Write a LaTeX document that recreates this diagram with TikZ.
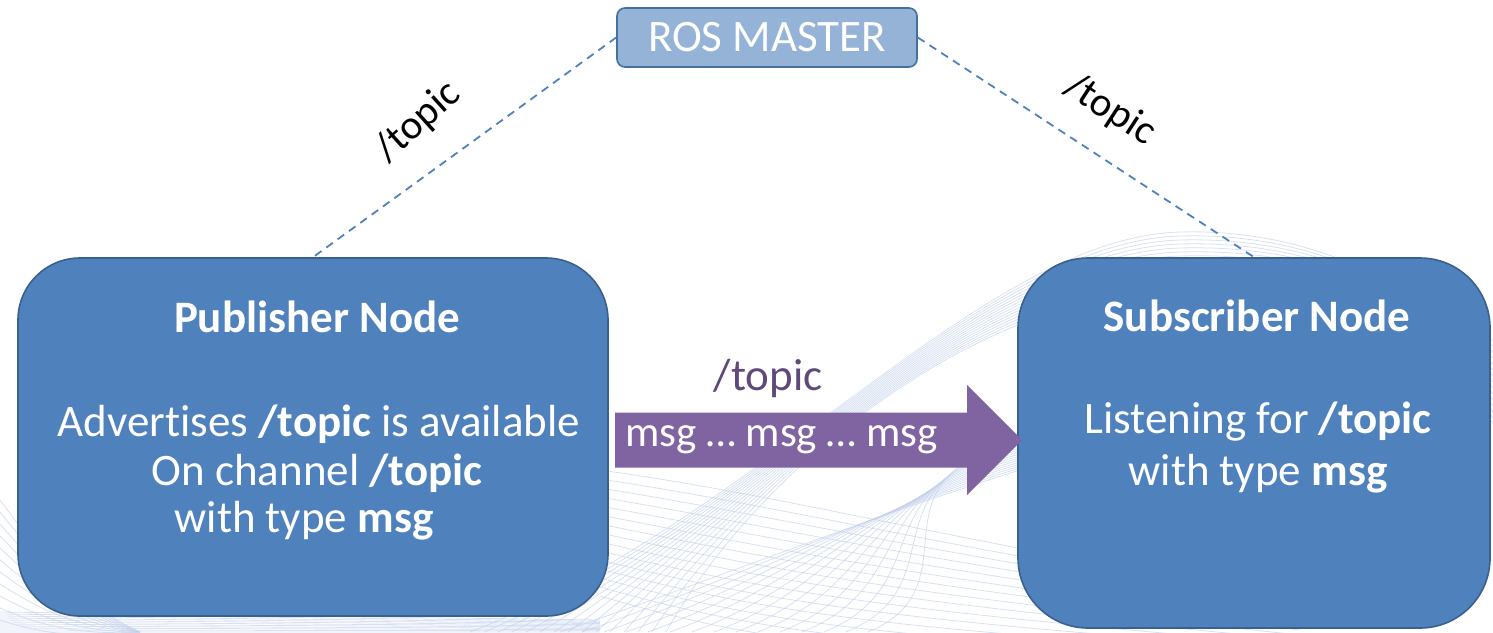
\documentclass[tikz,border=0pt]{standalone}
\usepackage{fontspec}
\setmainfont{Carlito}[Ligatures=NoCommon]
\usetikzlibrary{calc}
\definecolor{boxblue}{HTML}{4F81BD}
\definecolor{boxedge}{HTML}{3A6090}
\definecolor{masterfill}{HTML}{95B3D7}
\definecolor{masteredge}{HTML}{41719C}
\definecolor{flowpurple}{HTML}{8064A2}
\definecolor{topicpurple}{HTML}{5F497A}
\definecolor{meshblue}{HTML}{C3D0EA}
\tikzset{
  nodebox/.style={draw=boxedge, line width=1.6pt, fill=boxblue, inner sep=0pt},
  masterbox/.style={draw=masteredge, line width=1.6pt, fill=masterfill, rounded corners=8pt,
    inner sep=0pt, text=white, font=\fontsize{45}{54}\selectfont},
  whitetext/.style={text=white, inner sep=0pt, font=\fontsize{45}{54}\selectfont},
  titletext/.style={whitetext, font=\fontsize{45}{54}\selectfont\bfseries},
  link/.style={draw=boxblue, line width=1.8pt, dash pattern=on 8pt off 6pt},
  linklabel/.style={inner sep=0pt, font=\fontsize{41}{49}\selectfont},
  meshline/.style={draw=meshblue, line width=0.8pt, opacity=0.65},
}
\begin{document}
\begin{tikzpicture}[x=1pt, y=-1pt]
\useasboundingbox (0,0) rectangle (1493,632);

% faint wave mesh behind everything
\begin{scope}[meshline]
  \foreach \i in {0,...,14}{
    \draw (470+14*\i,632) .. controls (760,520-4*\i) and (980,238+4*\i) .. (1180,232+4*\i)
          .. controls (1330,228+4*\i) and (1420,300) .. (1493,340+6*\i);
    \draw (600,470+9*\i) .. controls (780,495+11*\i) and (900,530+9*\i) .. (1300,600+5*\i);
    \draw (560+22*\i,632) .. controls (700+20*\i,585) and (860,520-3*\i) .. (1020,470-2*\i);
  }
  \foreach \i in {0,...,10}{
    \draw (0,500+12*\i) .. controls (30,540+9*\i) and (70,600+4*\i) .. (140,632);
    \draw (0,612+2*\i) -- (600,620+1.2*\i);
  }
\end{scope}

% master and the two ROS nodes
\node[masterbox, minimum width=300pt, minimum height=59pt] (master) at (767,37.5) {ROS MASTER};
\node[nodebox, rounded corners=62pt, minimum width=590pt, minimum height=358pt] (pub) at (313,437) {};
\node[nodebox, rounded corners=70pt, minimum width=472pt, minimum height=370pt] (sub) at (1254,443) {};

% registration links to the master
\draw[link] (master.west) -- (pub.north);
\draw[link] (master.east) -- (sub.north);
\node[linklabel, rotate=42] (ltopic) at (418,122) {/topic};
\node[linklabel, rotate=-33] (rtopic) at (1110,110) {/topic};

% publisher text
\node[titletext] (pubtitle) at (317,317) {Publisher Node};
\node[whitetext] (publ1) at (319,424) {Advertises \textbf{/topic} is available};
\node[whitetext] (publ2) at (317,473) {On channel \textbf{/topic}};
\node[whitetext] (publ3) at (304,521) {with type \textbf{msg}};

% subscriber text
\node[titletext] (subtitle) at (1257,316) {Subscriber Node};
\node[whitetext] (subl1) at (1258,422) {Listening for \textbf{/topic}};
\node[whitetext] (subl2) at (1258,474) {with type \textbf{msg}};

% message flow arrow
\coordinate (flowstart) at (615,440);
\coordinate (flowtip) at (1022,440);
\fill[flowpurple] ($(flowstart)+(0,-27.5)$) -- ($(flowtip)+(-55,-27.5)$) -- ($(flowtip)+(-55,-55)$)
  -- (flowtip) -- ($(flowtip)+(-55,55)$) -- ($(flowtip)+(-55,27.5)$) -- ($(flowstart)+(0,27.5)$) -- cycle;
\node[whitetext, anchor=west, font=\fontsize{43}{52}\selectfont] (msgs) at (625,440) {msg … msg … msg};
\node[inner sep=0pt, text=topicpurple, font=\fontsize{45}{54}\selectfont] (ftopic) at (768,378) {/topic};
\end{tikzpicture}
\end{document}
